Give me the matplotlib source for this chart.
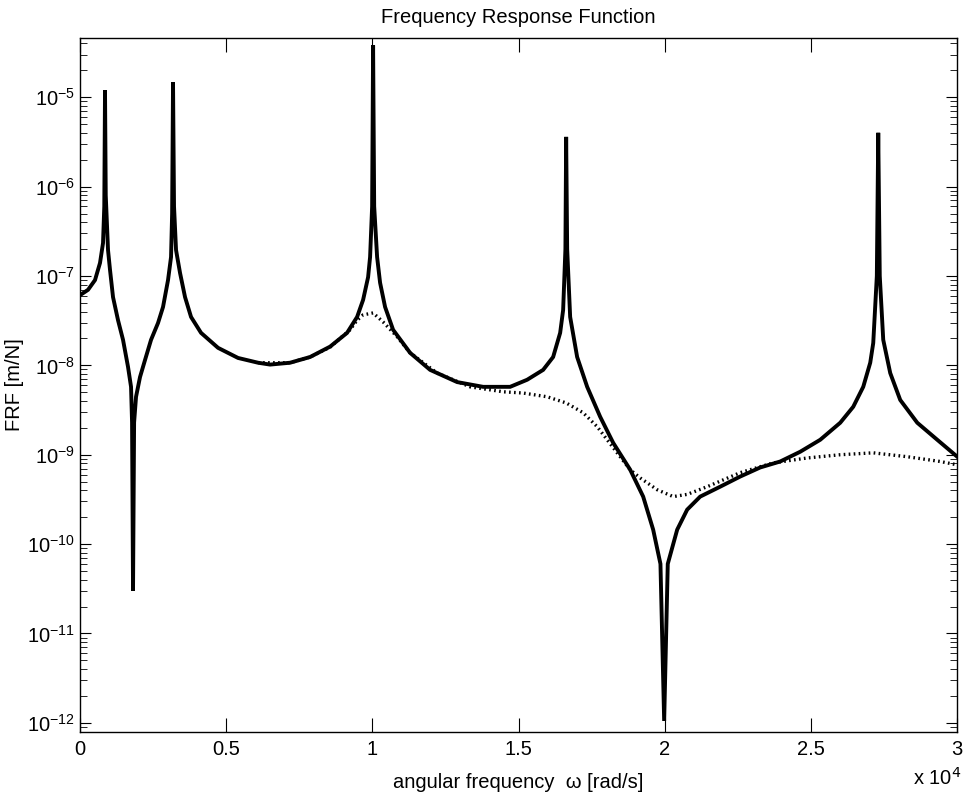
import matplotlib
matplotlib.use("Agg")
import matplotlib.pyplot as plt
from matplotlib.ticker import LogLocator, FuncFormatter, NullFormatter, FixedLocator

plt.rcParams['font.family'] = ['Liberation Sans', 'DejaVu Sans']

# lightly damped FRF (solid line)
w_solid = [0, 274, 513, 684, 787, 830, 855, 880, 958, 1026, 1129, 1300, 1471,
           1642, 1745, 1780, 1813, 1850, 1916, 2052, 2224, 2429, 2668, 2839,
           3010, 3113, 3150, 3181, 3215, 3284, 3421, 3592, 3797, 4139, 4721,
           5405, 6089, 6500, 7184, 7868, 8552, 9133, 9476, 9681, 9852, 9920,
           9990, 10023, 10060, 10160, 10262, 10433, 10707, 11289, 11973, 12896,
           13786, 14709, 15291, 15838, 16180, 16420, 16522, 16600, 16625, 16660,
           16762, 17001, 17344, 17788, 18233, 18814, 19259, 19601, 19850, 19977,
           20100, 20422, 20764, 21209, 21893, 22577, 23261, 23946, 24630, 25314,
           25998, 26443, 26785, 27024, 27127, 27250, 27298, 27350, 27469, 27708,
           28050, 28632, 29316, 30000]
frf_solid = [6.1e-8, 7.0e-8, 9.0e-8, 1.4e-7, 2.34e-7, 6e-7, 1.2e-5, 8e-7, 1.95e-7,
             1.17e-7, 5.8e-8, 3.2e-8, 1.93e-8, 9.6e-9, 5.75e-9, 2.3e-9, 3.0e-11,
             2.3e-9, 4.45e-9, 7.4e-9, 1.15e-8, 1.93e-8, 2.98e-8, 4.5e-8, 9.0e-8,
             1.63e-7, 5e-7, 1.47e-5, 6e-7, 1.95e-7, 1.08e-7, 5.8e-8, 3.48e-8,
             2.31e-8, 1.57e-8, 1.21e-8, 1.07e-8, 1.02e-8, 1.07e-8, 1.24e-8,
             1.62e-8, 2.31e-8, 3.48e-8, 5.4e-8, 9.7e-8, 1.63e-7, 6e-7, 3.8e-5,
             6e-7, 1.63e-7, 8.4e-8, 4.5e-8, 2.5e-8, 1.38e-8, 8.9e-9, 6.5e-9,
             5.75e-9, 5.75e-9, 6.9e-9, 8.9e-9, 1.24e-8, 2.31e-8, 4.17e-8, 2e-7,
             3.6e-6, 2e-7, 3.48e-8, 1.24e-8, 5.75e-9, 2.66e-9, 1.36e-9, 6.8e-10,
             3.4e-10, 1.45e-10, 6e-11, 1.05e-12, 6e-11, 1.45e-10, 2.43e-10,
             3.4e-10, 4.39e-10, 5.7e-10, 7.2e-10, 8.4e-10, 1.08e-9, 1.47e-9,
             2.28e-9, 3.44e-9, 5.75e-9, 1.07e-8, 1.78e-8, 1e-7, 4.0e-6, 1e-7,
             1.93e-8, 8.2e-9, 4.1e-9, 2.28e-9, 1.47e-9, 9.5e-10]

# damped FRF (dotted line)
w_damped = [6089, 7184, 7868, 8552, 9236, 9476, 9681, 10023, 10365, 10844, 11289,
            12212, 13341, 14470, 15154, 15975, 16625, 17207, 17686, 18028, 18370,
            18814, 19157, 19738, 20285, 20764, 21449, 22577, 23706, 24869, 25998,
            27127, 28290, 29419, 30000]
frf_damped = [1.07e-8, 1.07e-8, 1.24e-8, 1.6e-8, 2.5e-8, 3.2e-8, 3.67e-8, 3.86e-8,
              3.06e-8, 2.09e-8, 1.38e-8, 8.2e-9, 5.75e-9, 5.06e-9, 4.9e-9, 4.45e-9,
              3.8e-9, 2.95e-9, 2.06e-9, 1.47e-9, 1.05e-9, 6.8e-10, 5.5e-10,
              4.06e-10, 3.4e-10, 3.6e-10, 4.39e-10, 6.3e-10, 8.1e-10, 9.2e-10,
              1.0e-9, 1.05e-9, 9.5e-10, 8.4e-10, 7.7e-10]

x_ticks = [0, 5000, 10000, 15000, 20000, 25000, 30000]
y_ticks = [1e-12, 1e-11, 1e-10, 1e-9, 1e-8, 1e-7, 1e-6, 1e-5]

fig = plt.figure(figsize=(9.64, 8), dpi=100)
ax = fig.add_axes([0.083, 0.085, 0.91, 0.8675])

ax.semilogy(w_damped, frf_damped, color='black', lw=2.4, linestyle=(0, (0.5, 1.0)))
ax.semilogy(w_solid, frf_solid, color='black', lw=2.8, solid_joinstyle='miter')

ax.set_xlim(0, 30000)
ax.set_ylim(7.9e-13, 4.6e-5)

ax.set_xticks(x_ticks)
ax.xaxis.set_major_formatter(FuncFormatter(lambda v, p: '%g' % (v / 1e4)))
ax.yaxis.set_major_locator(FixedLocator(y_ticks))
ax.yaxis.set_minor_locator(LogLocator(base=10, subs=range(2, 10), numticks=20))
ax.yaxis.set_minor_formatter(NullFormatter())

ax.tick_params(which='both', direction='in', top=True, right=True, labelsize=14.5)
ax.tick_params(axis='x', which='major', length=10, pad=6)
ax.tick_params(axis='y', which='major', length=8)
ax.tick_params(axis='y', which='minor', length=5)
for s in ax.spines.values():
    s.set_linewidth(1.0)

ax.set_title('Frequency Response Function', fontsize=14.5, pad=11)
ax.set_xlabel('angular frequency  ω [rad/s]', fontsize=14.5, labelpad=10)
ax.set_ylabel('FRF [m/N]', fontsize=14.5, labelpad=2)
ax.text(1.005, -0.05, 'x 10$^{4}$', transform=ax.transAxes, ha='right', va='top',
        fontsize=14.5)

fig.savefig('out.png', dpi=100)
